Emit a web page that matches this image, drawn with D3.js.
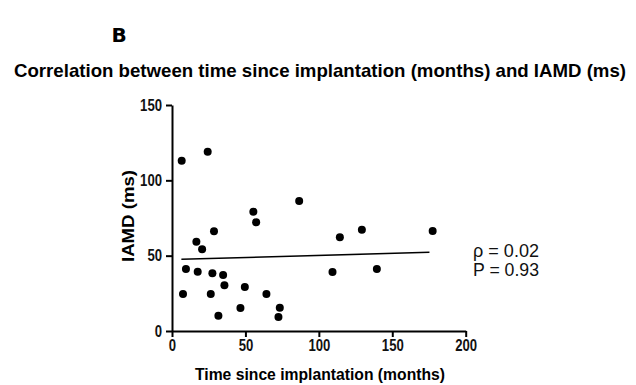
<!DOCTYPE html>
<html><head><meta charset="utf-8">
<script src="https://cdn.jsdelivr.net/npm/d3@7"></script>
<style>body{margin:0;background:#fff}svg{display:block}</style>
</head><body>
<svg id="c" width="636" height="385"></svg>
<script>
const months = [6.6, 24.3, 86.6, 55.4, 57.3, 28.6, 16.6, 20.5, 9.5, 17.5, 27.5, 34.8, 35.7, 49.6, 7.5, 26.4, 64.3, 46.6, 73.4, 31.6, 72.5, 114.3, 129.3, 177.5, 109.3, 139.5];
const iamd   = [113, 119, 86.3, 79.2, 72.1, 66.2, 59.3, 54.2, 41.1, 39.4, 38.3, 37.2, 30.3, 29.2, 24.6, 24.6, 24.6, 15.3, 15.5, 10.2, 9.3, 62.2, 67.2, 66.4, 39.2, 41.2];
const fitX = [6.4, 175.3];
const fitY = [47.6, 52.2];
const xTicks = [0, 50, 100, 150, 200];
const yTicks = [0, 50, 100, 150];
const stats = ["\u03C1 = 0.02", "P = 0.93"];

const svg = d3.select("#c");
const x = d3.scaleLinear().domain([0, 200]).range([172, 465.7]);
const y = d3.scaleLinear().domain([0, 150]).range([331, 105]);
const font = "'Liberation Sans Narrow', 'Liberation Sans', Arial, sans-serif";

svg.append("text").attr("x", 119).attr("y", 42).attr("text-anchor", "middle")
  .attr("font-family", "'DejaVu Sans', Verdana, sans-serif").attr("font-weight", "bold").attr("font-size", 20).text("B");

svg.append("text").attr("x", 320).attr("y", 77).attr("text-anchor", "middle")
  .attr("font-family", font).attr("font-weight", "bold").attr("font-size", 18.5)
  .attr("textLength", 612).attr("lengthAdjust", "spacingAndGlyphs")
  .text("Correlation between time since implantation (months) and IAMD (ms)");

const xAxis = svg.append("g").attr("transform", `translate(0,${y(0)})`)
  .call(d3.axisBottom(x).tickValues(xTicks).tickSize(6).tickSizeOuter(0).tickPadding(3));
const yAxis = svg.append("g").attr("transform", `translate(${x(0)},0)`)
  .call(d3.axisLeft(y).tickValues(yTicks).tickSize(6).tickSizeOuter(0).tickPadding(4));
[xAxis, yAxis].forEach(g => {
  g.select(".domain").attr("stroke", "#000").attr("stroke-width", 2);
  g.selectAll(".tick line").attr("stroke", "#000").attr("stroke-width", 2);
  g.selectAll(".tick text").attr("font-family", font).attr("font-size", 16).attr("font-weight", "bold")
    .attr("fill", "#111").attr("textLength", function() { return this.textContent.length * 7.3; })
    .attr("lengthAdjust", "spacingAndGlyphs");
});

svg.append("line").attr("x1", x(fitX[0])).attr("y1", y(fitY[0])).attr("x2", x(fitX[1])).attr("y2", y(fitY[1]))
  .attr("stroke", "#000").attr("stroke-width", 1.5);

svg.append("g").selectAll("circle").data(months.map((m, i) => [m, iamd[i]])).join("circle")
  .attr("cx", d => x(d[0])).attr("cy", d => y(d[1])).attr("r", 4).attr("fill", "#000");

svg.append("text").attr("x", 320).attr("y", 380).attr("text-anchor", "middle")
  .attr("font-family", font).attr("font-weight", "bold").attr("font-size", 17)
  .attr("textLength", 250).attr("lengthAdjust", "spacingAndGlyphs")
  .text("Time since implantation (months)");
svg.append("text").attr("transform", "translate(134,216) rotate(-90)").attr("text-anchor", "middle")
  .attr("font-family", font).attr("font-weight", "bold").attr("font-size", 17)
  .attr("textLength", 92).attr("lengthAdjust", "spacingAndGlyphs")
  .text("IAMD (ms)");

svg.append("g").selectAll("text").data(stats).join("text")
  .attr("x", 473).attr("y", (d, i) => 257 + i * 19)
  .attr("font-family", "'Liberation Sans', Arial, sans-serif").attr("font-size", 18).attr("fill", "#111")
  .attr("textLength", 66).attr("lengthAdjust", "spacingAndGlyphs").text(d => d);
</script>
</body></html>
